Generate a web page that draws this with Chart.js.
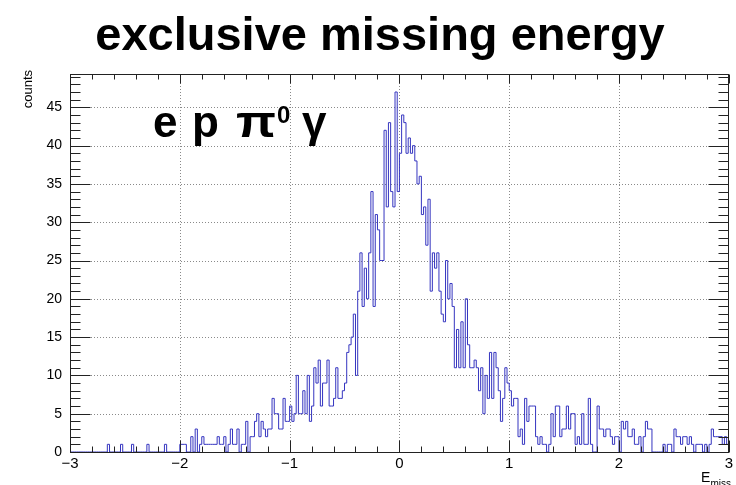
<!DOCTYPE html>
<html>
<head>
<meta charset="utf-8">
<script src="https://cdn.jsdelivr.net/npm/chart.js@4.4.1/dist/chart.umd.min.js"></script>
<style>
  html, body { margin: 0; padding: 0; background: #fff; overflow: hidden; }
  canvas { display: block; }
</style>
</head>
<body>
<canvas id="c" width="736" height="485"></canvas>
<script>
// ── histogram: 300 bins between -3 and 3 ──
var xLow = -3;
var xHigh = 3;
var nBins = 300;
var counts = [
  0,0,0,0,0,0,0,0,0,0,
  0,0,0,0,0,0,0,1,0,0,
  0,0,0,1,0,0,0,0,1,0,
  0,0,0,0,0,1,0,0,0,0,
  0,0,0,1,0,0,0,0,0,0,
  1,1,1,0,0,2,0,3,0,1,
  2,1,1,1,1,1,1,2,1,1,
  2,0,1,3,1,1,3,0,1,1,
  4,0,2,2,4,5,2,4,3,2,
  3,3,7,5,5,3,3,7,4,4,
  6,4,5,10,5,5,8,5,10,4,
  6,11,9,12,6,9,9,12,6,6,
  7,11,7,7,8,9,13,14,15,18,
  10,21,26,19,24,20,26,34,19,31,
  29,25,25,42,32,43,34,32,47,34,
  39,44,43,39,41,39,40,38,35,36,
  31,32,27,33,21,26,24,26,21,18,
  17,25,20,22,19,11,16,11,17,11,
  20,14,11,11,12,11,8,11,5,10,
  7,13,7,13,11,8,4,7,11,9,
  8,6,7,7,2,3,1,7,4,6,
  6,6,2,1,2,1,1,0,1,5,
  2,6,6,2,3,3,6,3,5,5,
  1,2,1,5,1,1,7,1,0,0,
  6,3,3,2,3,3,2,1,2,2,
  0,4,3,4,2,2,3,1,1,2,
  0,2,4,3,3,0,0,0,0,0,
  1,0,1,1,0,3,2,2,1,2,
  2,1,2,1,0,1,1,1,0,1,
  0,1,3,2,2,2,2,1,2,1
];
var xTicks = [-3, -2, -1, 0, 1, 2, 3];
var yTicks = [0, 5, 10, 15, 20, 25, 30, 35, 40, 45];
var yMax = 49.35;   // 1.05 * max bin

var FONT = '"Liberation Sans", Arial, Helvetica, sans-serif';
var binW = (xHigh - xLow) / nBins;

// step points on the bin low edges, closing point on the upper edge
var pts = counts.map(function(c, i) { return { x: xLow + i * binW, y: c }; });
pts.push({ x: xHigh, y: counts[nBins - 1] });

function minusLabel(v) {
  return v < 0 ? "\u2212" + Math.abs(v) : String(v);
}

// ── ROOT-like frame, grid, ticks and texts ──
var rootLook = {
  id: "rootLook",
  beforeDatasetsDraw: function(chart) {
    var ctx = chart.ctx, a = chart.chartArea;
    var xs = chart.scales.x, ys = chart.scales.y;
    ctx.save();
    ctx.strokeStyle = "#8a8a8a";
    ctx.lineWidth = 1;
    ctx.setLineDash([1, 2]);
    xTicks.forEach(function(v) {
      if (v === xLow || v === xHigh) return;
      var px = Math.round(xs.getPixelForValue(v)) + 0.5;
      ctx.beginPath(); ctx.moveTo(px, a.top); ctx.lineTo(px, a.bottom); ctx.stroke();
    });
    yTicks.forEach(function(v) {
      if (v === 0) return;
      var py = Math.round(ys.getPixelForValue(v)) + 0.5;
      ctx.beginPath(); ctx.moveTo(a.left, py); ctx.lineTo(a.right, py); ctx.stroke();
    });
    ctx.restore();
  },
  afterDatasetsDraw: function(chart) {
    var ctx = chart.ctx, a = chart.chartArea;
    var xs = chart.scales.x, ys = chart.scales.y;
    var L = Math.round(a.left) + 0.5, R = Math.round(a.right) - 0.5;
    var T = Math.round(a.top) + 0.5, B = Math.round(a.bottom) + 0.5;
    ctx.save();
    ctx.strokeStyle = "#222";
    ctx.lineWidth = 1;
    ctx.strokeRect(L, T, R - L, B - T);
    ctx.beginPath();
    // y ticks, major every 5, minor every 1, on left and right
    for (var k = 0; k <= 49; k++) {
      var py = Math.round(ys.getPixelForValue(k)) + 0.5;
      var len = (k % 5 === 0) ? 20 : 10;
      ctx.moveTo(L, py); ctx.lineTo(L + len, py);
      ctx.moveTo(R, py); ctx.lineTo(R - len, py);
    }
    // x ticks, major every 1, minor every 0.2, bottom and top
    for (var j = 0; j <= 30; j++) {
      var v = xLow + j * 0.2;
      var px = Math.round(xs.getPixelForValue(v)) + 0.5;
      var major = (j % 5 === 0);
      ctx.moveTo(px, B); ctx.lineTo(px, B - (major ? 12 : 6));
      ctx.moveTo(px, T); ctx.lineTo(px, T + (major ? 9 : 5));
    }
    ctx.stroke();
    ctx.restore();
  },
  afterDraw: function(chart) {
    var ctx = chart.ctx;
    ctx.save();
    ctx.fillStyle = "#000";
    ctx.textBaseline = "alphabetic";

    // title
    ctx.font = "bold 47px " + FONT;
    ctx.textAlign = "center";
    ctx.fillText("exclusive missing energy", 380, 50);

    // reaction label
    ctx.textAlign = "left";
    ctx.font = "bold 44px " + FONT;
    ctx.fillText("e", 153, 137);
    ctx.fillText("p", 192, 137);
    var piW = ctx.measureText("\u03C0").width;
    ctx.save();
    ctx.translate(236, 137);
    ctx.scale(40 / piW, 1);
    ctx.fillText("\u03C0", 0, 0);
    ctx.restore();
    ctx.font = "bold 24px " + FONT;
    ctx.fillText("0", 277, 123);
    ctx.font = "bold 44px " + FONT;
    ctx.fillText("\u03B3", 302, 137);

    // y title
    ctx.font = "13px " + FONT;
    ctx.save();
    ctx.translate(32, 70);
    ctx.rotate(-Math.PI / 2);
    ctx.textAlign = "right";
    ctx.fillText("counts", 0, 0);
    ctx.restore();

    // x title E_miss
    ctx.textAlign = "right";
    ctx.font = "10px " + FONT;
    var subW = ctx.measureText("miss").width;
    ctx.fillText("miss", 731, 487);
    ctx.font = "14px " + FONT;
    ctx.fillText("E", 731 - subW, 482);
    ctx.restore();
  }
};

Chart.defaults.font.family = FONT;
Chart.defaults.color = "#000";

new Chart(document.getElementById("c"), {
  type: "line",
  data: {
    datasets: [{
      label: "E_miss",
      data: pts,
      stepped: "before",
      borderColor: "#3535c0",
      borderWidth: 1,
      pointRadius: 0,
      fill: false,
      tension: 0
    }]
  },
  options: {
    responsive: false,
    devicePixelRatio: 1,
    animation: false,
    parsing: false,
    layout: { padding: { top: 74, right: 4.5, left: 0, bottom: 0 } },
    plugins: { legend: { display: false }, tooltip: { enabled: false }, title: { display: false } },
    scales: {
      x: {
        type: "linear",
        min: xLow,
        max: xHigh,
        afterFit: function(s) { s.height = 33; },
        afterBuildTicks: function(s) { s.ticks = xTicks.map(function(v) { return { value: v }; }); },
        grid: { display: false, drawTicks: false },
        border: { display: false },
        ticks: {
          autoSkip: false,
          maxRotation: 0,
          padding: 3,
          font: { size: 15 },
          callback: function(v) { return minusLabel(v); }
        }
      },
      y: {
        type: "linear",
        min: 0,
        max: yMax,
        afterFit: function(s) { s.width = 70; },
        afterBuildTicks: function(s) { s.ticks = yTicks.map(function(v) { return { value: v }; }); },
        grid: { display: false, drawTicks: false },
        border: { display: false },
        ticks: {
          padding: 8,
          font: { size: 14 },
          callback: function(v) { return String(v); }
        }
      }
    }
  },
  plugins: [rootLook]
});
</script>
</body>
</html>
